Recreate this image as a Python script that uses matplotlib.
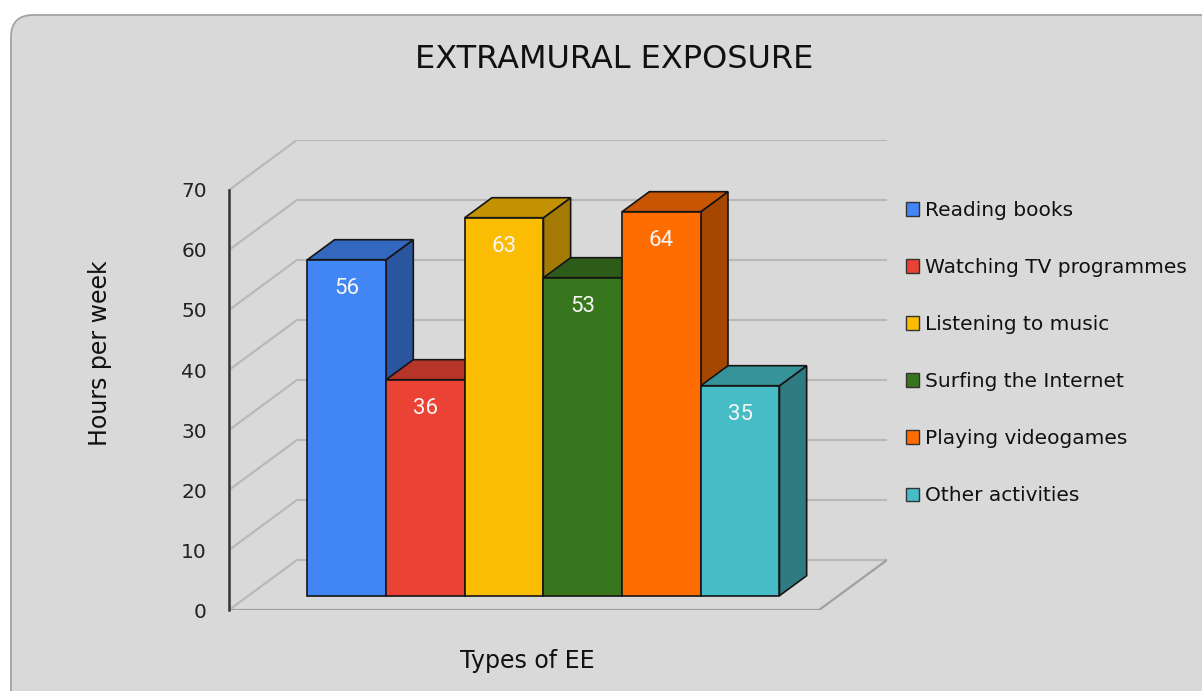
import matplotlib.pyplot as plt
import matplotlib.colors as mcolors
from matplotlib.patches import Polygon, Patch, FancyBboxPatch

activities = ["Reading books", "Watching TV programmes", "Listening to music",
              "Surfing the Internet", "Playing videogames", "Other activities"]
hours = [56, 36, 63, 53, 64, 35]
colors = ["#4285F4", "#EA4335", "#FBBC04", "#38761D", "#FF6D01", "#46BDC6"]
yticks = [0, 10, 20, 30, 40, 50, 60, 70]


def shade(c, f):
    r, g, b = mcolors.to_rgb(c)
    return (r * f, g * f, b * f)


W, H = 1202, 691
fig = plt.figure(figsize=(W / 100, H / 100), dpi=100)
fig.patch.set_facecolor("white")

# grey rounded panel, drawn in pixel space
bg = fig.add_axes([0, 0, 1, 1], zorder=0)
bg.set_xlim(0, W)
bg.set_ylim(H, 0)
bg.axis("off")
bg.add_patch(FancyBboxPatch((11, 15), 1400, 900,
                            boxstyle="round,pad=0,rounding_size=22",
                            fc="#d9d9d9", ec="#a3a3a3", lw=1.3))

# main axes: front plane + depth offset
x0, x1 = -1.25, 6.25          # front plane x range
DX, DY = 0.8635, 50 / 6.0     # depth of the whole box
fx, fy = 0.286 * DX, 0.286 * DY   # bar front offset
sx, sy = 0.40 * DX, 0.40 * DY     # bar depth
ymax = 70

ax = fig.add_axes([229 / W, (H - 610) / H, (887 - 229) / W, (610 - 140) / H], zorder=1)
ax.set_facecolor("none")
ax.set_xlim(x0, x1 + DX)
ax.set_ylim(0, ymax + DY)
for s in ["top", "right", "bottom"]:
    ax.spines[s].set_visible(False)
ax.spines["left"].set_bounds(0, ymax)
ax.spines["left"].set_color("#333333")
ax.spines["left"].set_linewidth(1.8)
ax.set_xticks([])
ax.set_yticks(yticks)
ax.set_yticklabels([str(t) for t in yticks])
ax.tick_params(axis="y", length=0, pad=16, labelsize=14.5, labelcolor="#222222")

grid_c = "#b9b9b9"
for t in yticks:
    ax.plot([x0, x0 + DX, x1 + DX], [t, t + DY, t + DY], color=grid_c, lw=1.6,
            zorder=1, solid_capstyle="butt")
# floor front edges
ax.plot([x0, x1, x1 + DX], [0, 0, DY], color="#a0a0a0", lw=1.6, zorder=1)

edge = "#151515"
for i, (v, c) in enumerate(zip(hours, colors)):
    l = i - 0.5 + fx
    r = i + 0.5 + fx
    top = fy + v
    z = 3 + i
    side = Polygon([(r, fy), (r, top), (r + sx, top + sy), (r + sx, fy + sy)],
                   closed=True, fc=shade(c, 0.65), ec=edge, lw=1.2, zorder=z)
    cap = Polygon([(l, top), (r, top), (r + sx, top + sy), (l + sx, top + sy)],
                  closed=True, fc=shade(c, 0.78), ec=edge, lw=1.2, zorder=z)
    ax.add_patch(side)
    ax.add_patch(cap)
    ax.bar(i + fx, v, width=1, bottom=fy, color=c, edgecolor=edge, lw=1.2, zorder=z + 0.1)
    ax.text(i + fx, top - 5.8, str(v), ha="center", va="baseline", color="#f5f5f5",
            fontsize=16, family="Roboto", zorder=z + 0.2)

fig.text(614 / W, 1 - 68.3 / H, "EXTRAMURAL EXPOSURE", ha="center", va="baseline",
         fontsize=23, color="#111111")
fig.text(100 / W, 1 - 353.5 / H, "Hours per week", rotation=90, ha="center",
         va="center", fontsize=17, color="#111111")
fig.text(527.5 / W, 1 - 668.3 / H, "Types of EE", ha="center", va="baseline",
         fontsize=17, color="#111111")

handles = [Patch(facecolor=c, edgecolor="#333333", lw=1.0) for c in colors]
fig.legend(handles, activities, loc="upper left",
           bbox_to_anchor=(906 / W, 1 - 201 / H), frameon=False, fontsize=14.5,
           handlelength=0.65, handleheight=0.65, handletextpad=0.3,
           labelspacing=1.89, borderpad=0, borderaxespad=0, labelcolor="#111111")

fig.savefig("out.png", dpi=100)
